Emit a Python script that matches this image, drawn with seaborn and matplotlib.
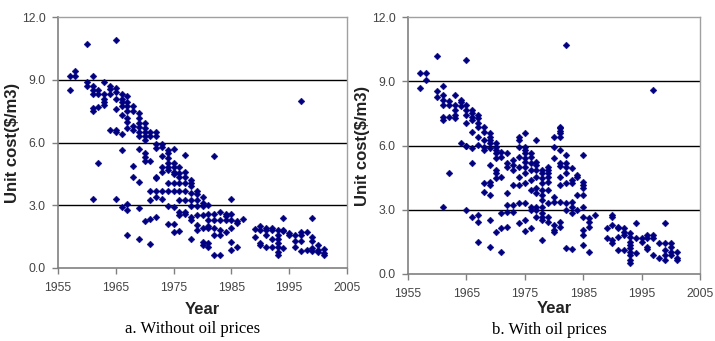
import matplotlib
matplotlib.use("Agg")
import matplotlib.pyplot as plt
import seaborn as sns
import pandas as pd
from matplotlib.ticker import FormatStrFormatter

# ---------------- data: panel a (without oil prices) ----------------
years_a = [1957, 1958, 1960, 1961, 1962, 1963, 1964, 1965, 1966, 1967, 1968, 1969,
           1970, 1971, 1972, 1973, 1974, 1975, 1976, 1977, 1978, 1979, 1980, 1981,
           1982, 1983, 1984, 1985, 1986, 1987, 1989, 1990, 1991, 1992, 1993, 1994,
           1995, 1996, 1997, 1998, 1999, 2000, 2001]
values_a = [
    [9.2, 8.5], [9.4, 9.2], [10.7, 8.9, 8.7],
    [9.2, 8.7, 8.5, 8.3, 7.65, 7.5, 3.3], [8.5, 8.3, 7.7, 5.0],
    [8.9, 8.3, 8.1, 7.95, 7.8], [8.7, 8.55, 8.3, 6.6],
    [10.9, 8.6, 8.4, 8.1, 7.6, 6.6, 6.5, 3.3],
    [8.3, 8.1, 7.95, 7.75, 7.3, 6.4, 5.65, 2.9],
    [8.2, 7.95, 7.75, 7.5, 7.15, 7.0, 6.7, 3.05, 2.75, 1.6],
    [7.75, 7.5, 6.8, 6.6, 4.9, 4.35],
    [7.4, 7.15, 6.95, 6.75, 6.5, 6.3, 5.7, 4.1, 2.85, 1.4],
    [6.95, 6.7, 6.5, 6.3, 6.1, 5.5, 5.3, 5.1, 2.25],
    [6.5, 6.3, 5.1, 3.7, 3.25, 2.35, 1.15],
    [6.5, 6.3, 5.95, 5.75, 4.35, 4.3, 3.7, 3.4, 2.45],
    [5.95, 5.8, 5.35, 4.85, 4.6, 3.7, 3.3],
    [5.65, 5.5, 5.25, 5.0, 4.85, 4.7, 4.05, 3.7, 2.95, 2.1],
    [5.7, 5.0, 4.85, 4.6, 4.5, 4.05, 3.7, 2.9, 2.1, 1.7],
    [4.85, 4.55, 4.35, 4.05, 3.7, 3.25, 2.7, 2.55, 1.75],
    [5.4, 4.6, 4.35, 4.05, 3.7, 3.25, 2.7, 2.6],
    [4.2, 4.05, 3.9, 3.6, 3.25, 2.95, 2.45, 2.3, 1.4],
    [3.7, 3.55, 3.25, 2.95, 2.55, 2.05, 1.8],
    [3.4, 3.1, 2.95, 2.55, 1.9, 1.25, 1.1],
    [3.0, 2.6, 2.3, 2.0, 1.9, 1.2, 1.0],
    [5.35, 2.6, 2.3, 1.9, 1.6, 0.6],
    [2.7, 2.3, 1.8, 1.6, 0.6],
    [2.6, 2.5, 2.3, 1.7],
    [3.3, 2.6, 2.3, 1.9, 1.25, 0.85],
    [2.25, 2.15, 1.0], [2.35], [1.85, 1.5],
    [2.0, 1.8, 1.2, 1.1], [1.9, 1.8, 1.6, 1.0], [1.9, 1.8, 1.4, 1.0],
    [1.8, 1.6, 1.4, 1.2, 1.0, 0.75, 0.6], [2.4, 1.8, 1.75, 0.95],
    [1.65, 1.6], [1.6, 1.3, 1.0], [8.0, 1.7, 1.6, 1.3, 0.8], [1.7, 0.85],
    [2.4, 1.5, 1.3, 0.95, 0.8], [1.1, 0.85, 0.75], [0.9, 0.7, 0.6],
]

# ---------------- data: panel b (with oil prices) ----------------
years_b = [1957, 1958, 1960, 1961, 1962, 1963, 1964, 1965, 1966, 1967, 1968, 1969,
           1970, 1971, 1972, 1973, 1974, 1975, 1976, 1977, 1978, 1979, 1980, 1981,
           1982, 1983, 1984, 1985, 1986, 1987, 1989, 1990, 1991, 1992, 1993, 1994,
           1995, 1996, 1997, 1998, 1999, 2000, 2001]
values_b = [
    [9.37, 8.67], [9.37, 9.06], [10.18, 8.55, 8.28],
    [8.8, 8.36, 8.12, 7.89, 7.35, 7.2, 3.14], [8.1, 7.9, 7.35, 4.7],
    [8.36, 7.89, 7.65, 7.42, 7.27], [8.12, 8.05, 7.85, 6.1],
    [10.0, 7.89, 7.65, 7.42, 7.03, 6.0, 5.98, 3.0],
    [7.65, 7.5, 7.35, 7.2, 6.65, 5.87, 5.17, 2.67],
    [7.42, 7.27, 7.03, 6.88, 6.41, 6.02, 2.75, 2.44, 1.51],
    [6.88, 6.65, 6.26, 5.95, 5.79, 4.25, 3.85],
    [6.57, 6.41, 6.26, 6.1, 5.87, 5.09, 4.31, 4.16, 3.69, 2.52, 1.28],
    [6.1, 5.95, 5.79, 5.63, 5.4, 4.86, 4.7, 4.47, 1.98],
    [5.71, 5.48, 4.55, 2.83, 2.13, 1.04],
    [5.63, 5.17, 5.01, 3.77, 3.22, 2.9, 2.21],
    [5.32, 5.09, 4.86, 4.16, 3.22, 2.9],
    [6.41, 6.26, 5.95, 5.48, 5.01, 4.55, 4.16, 3.3, 2.36],
    [6.57, 5.95, 5.79, 5.63, 5.4, 5.25, 5.01, 4.7, 4.23, 3.3, 2.52, 2.0],
    [5.63, 5.48, 5.17, 4.86, 4.39, 3.92, 3.14, 2.98, 2.13],
    [6.26, 5.25, 5.09, 4.86, 4.55, 4.0, 3.77, 3.14, 2.98, 2.67],
    [4.86, 4.7, 4.47, 4.23, 3.92, 3.69, 3.45, 3.14, 2.83, 2.67, 2.52, 1.59],
    [5.01, 4.86, 4.7, 4.55, 4.31, 3.92, 3.3, 2.67, 2.44],
    [6.41, 5.95, 5.4, 3.61, 3.38, 2.28, 2.05, 1.98],
    [6.88, 6.8, 6.7, 6.57, 6.41, 5.79, 5.17, 5.04, 4.55, 4.16, 3.38, 2.44, 2.21],
    [10.69, 5.55, 5.17, 5.01, 4.7, 4.23, 3.3, 2.98, 1.2],
    [4.95, 4.39, 4.23, 3.38, 3.14, 2.83, 1.16],
    [4.63, 4.55, 3.69, 2.98],
    [5.55, 4.31, 4.16, 4.0, 3.69, 3.14, 2.67, 2.05, 1.82, 1.36],
    [2.6, 2.44, 2.21, 1.04], [2.75], [2.13, 1.67],
    [2.75, 2.67, 2.28, 1.59, 1.43], [2.21, 2.13, 1.74, 1.12],
    [2.13, 1.98, 1.82, 1.12],
    [1.9, 1.74, 1.51, 1.36, 1.2, 1.04, 0.89, 0.65, 0.52],
    [2.36, 1.67, 0.97], [1.67, 1.51], [1.82, 1.67, 1.28, 1.16],
    [8.59, 1.82, 1.67, 0.89], [1.43, 0.73],
    [2.4, 1.43, 1.12, 0.89, 0.65], [1.43, 1.28, 1.04, 0.89],
    [1.04, 0.73, 0.65],
]

captions = ["a. Without oil prices", "b. With oil prices"]
x_ticks = [1955, 1965, 1975, 1985, 1995, 2005]
y_ticks = [0.0, 3.0, 6.0, 9.0, 12.0]


def to_frame(years, values):
    rows = [(y, v) for y, vs in zip(years, values) for v in vs]
    return pd.DataFrame(rows, columns=["Year", "Cost"])


sns.set_theme(style="white")
plt.rcParams["font.family"] = ["Liberation Sans", "DejaVu Sans"]

fig = plt.figure(figsize=(7.15, 3.41), dpi=100)
ax_a = fig.add_axes([58 / 715, 73 / 341, 289 / 715, 251 / 341])
ax_b = fig.add_axes([408 / 715, 67 / 341, 292 / 715, 257 / 341])

for ax, (yrs, vals), xpad in zip([ax_a, ax_b],
                                 [(years_a, values_a), (years_b, values_b)],
                                 [6, 1]):
    df = to_frame(yrs, vals)
    ax.set_axisbelow(True)
    for g in y_ticks[1:-1]:
        ax.axhline(g, color="black", lw=1.0, zorder=1)
    sns.scatterplot(data=df, x="Year", y="Cost", ax=ax, marker="D", s=12,
                    color="#000080", edgecolor="#000080", linewidth=0.3,
                    zorder=3, legend=False)
    ax.set_xlim(1955, 2005)
    ax.set_ylim(0, 12)
    ax.set_xticks(x_ticks)
    ax.set_yticks(y_ticks)
    ax.yaxis.set_major_formatter(FormatStrFormatter("%.1f"))
    ax.tick_params(axis="both", which="major", direction="out", length=4,
                   width=1, color="#808080", labelsize=8.8, labelcolor="#444444",
                   left=True, bottom=True)
    ax.tick_params(axis="x", pad=6)
    ax.tick_params(axis="y", pad=5)
    for side in ["top", "right"]:
        ax.spines[side].set_color("#a0a0a0")
        ax.spines[side].set_linewidth(1.0)
    for side in ["left", "bottom"]:
        ax.spines[side].set_color("#808080")
        ax.spines[side].set_linewidth(1.2)
    ax.set_xlabel("Year", fontsize=12, fontweight="bold", color="#222222",
                  labelpad=xpad)
    ax.set_ylabel("Unit cost($/m3)", fontsize=12, fontweight="bold",
                  color="#222222", labelpad=1)
    ax.grid(False)

fig.text(193 / 715, 1 - 329 / 341, captions[0], ha="center", va="center",
         fontsize=12, family=["Liberation Serif", "DejaVu Serif"], color="black")
fig.text(549 / 715, 1 - 330 / 341, captions[1], ha="center", va="center",
         fontsize=12, family=["Liberation Serif", "DejaVu Serif"], color="black")

fig.savefig("out.png", dpi=100, facecolor="white")
